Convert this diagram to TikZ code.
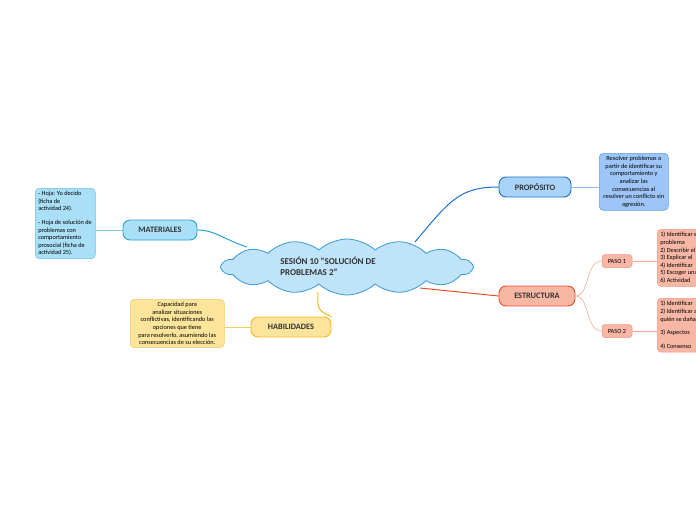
\documentclass[tikz,border=0pt]{standalone}
\usepackage{fontspec}
\setmainfont{Carlito}
\usetikzlibrary{shapes.symbols}
\definecolor{cloudf}{HTML}{BFE3F8}\definecolor{cloudd}{HTML}{3A9AD9}
\definecolor{propf}{HTML}{A9D3F8}\definecolor{propd}{HTML}{1E6FCC}
\definecolor{propbf}{HTML}{9DC5F7}\definecolor{propbd}{HTML}{5F9CE8}
\definecolor{estf}{HTML}{F8B7A4}\definecolor{estd}{HTML}{E8502A}
\definecolor{matf}{HTML}{A9E0F7}\definecolor{matd}{HTML}{2BA0D8}
\definecolor{habf}{HTML}{FDE49B}\definecolor{habd}{HTML}{F3B820}
\begin{document}
\begin{tikzpicture}[x=1pt,y=-1pt,
  main/.style={rounded corners=7pt,line width=0.9pt,minimum height=20pt,font=\fontsize{8.3}{9}\selectfont\bfseries,text=black!80},
  txt/.style={rounded corners=4pt,line width=0.5pt,font=\fontsize{6.3}{7.6}\selectfont,inner sep=3pt,anchor=north west},
  paso/.style={rounded corners=3pt,draw=estd!60,fill=estf,line width=0.5pt,minimum width=30pt,minimum height=13pt,font=\fontsize{6.3}{6}\selectfont}]
\useasboundingbox (0,0) rectangle (696,520);
\clip (0,0) rectangle (696,520);
\node[cloud,cloud puffs=14,cloud puff arc=85,aspect=4.5,draw=cloudd,fill=cloudf,line width=0.8pt,minimum width=250pt,minimum height=56pt] (c) at (347,267) {};
\node[align=left,font=\fontsize{9}{11}\selectfont\bfseries,text=black!80] (ct) at (328,266) {SESIÓN 10 "SOLUCIÓN DE\\PROBLEMAS 2"};
\node[main,draw=propd,fill=propf,minimum width=72pt] (p) at (535,187) {PROPÓSITO};
\node[main,draw=estd,fill=estf,minimum width=76pt] (e) at (537,296) {ESTRUCTURA};
\node[main,draw=matd,fill=matf,minimum width=74pt] (m) at (160,230) {MATERIALES};
\node[main,draw=habd,fill=habf,minimum width=80pt] (h) at (291,327) {HABILIDADES};
\node[txt,draw=propbd,fill=propbf,text width=63pt,align=flush center] (pb) at (599,153) {Resolver problemas a partir de identificar su comportamiento y analizar las consecuencias al resolver un conflicto sin agresión.};
\node[txt,draw=matd!70,fill=matf,text width=54pt,align=flush left] (mb) at (35,188) {- Hoja: Yo decido\\(ficha de\\actividad 24).\\[6pt]- Hoja de solución de problemas con comportamiento prosocial (ficha de actividad 25).};
\node[txt,draw=habd!70,fill=habf,text width=88pt,align=flush center] (hb) at (130,299) {Capacidad para\\analizar situaciones\\conflictivas, identificando las opciones que tiene\\para resolverlo, asumiendo las consecuencias de su elección.};
\node[paso] (p1) at (617,261) {PASO 1};
\node[paso] (p2) at (617,331) {PASO 2};
\node[txt,draw=estd!60,fill=estf,text width=60pt,align=flush left] (b1) at (657,229) {1) Identificar el\\problema\\2) Describir el\\3) Explicar el\\4) Identificar\\5) Escoger una\\6) Actividad};
\node[txt,draw=estd!60,fill=estf,text width=60pt,align=flush left] (b2) at (657,298) {1) Identificar\\2) Identificar a\\quién se daña\\[6pt]3) Aspectos\\[6pt]4) Consenso};
\draw[propd,line width=1pt] (415,242) .. controls (450,200) and (460,187) .. (p.west);
\draw[estd,line width=1pt] (420,288) .. controls (460,292) .. (e.west);
\draw[matd,line width=1pt] (m.east) .. controls (215,230) and (225,240) .. (247,247);
\draw[habd,line width=1pt] (318,292) .. controls (318,305) and (315,310) .. (h.north east);
\draw[propbd!70,line width=0.6pt] (p.east) -- (pb.west|-p.east);
\draw[matd!60,line width=0.6pt] (m.west) -- (mb.east|-m.west);
\draw[habd!70,line width=0.6pt] (h.west) -- (hb.east|-h.west);
\draw[estd!50,line width=0.6pt] (e.east) .. controls (590,296) and (585,261) .. (p1.west);
\draw[estd!50,line width=0.6pt] (e.east) .. controls (590,296) and (585,331) .. (p2.west);
\draw[estd!50,line width=0.6pt] (p1.east) -- (b1.west|-p1.east);
\draw[estd!50,line width=0.6pt] (p2.east) -- (b2.west|-p2.east);
\end{tikzpicture}
\end{document}
